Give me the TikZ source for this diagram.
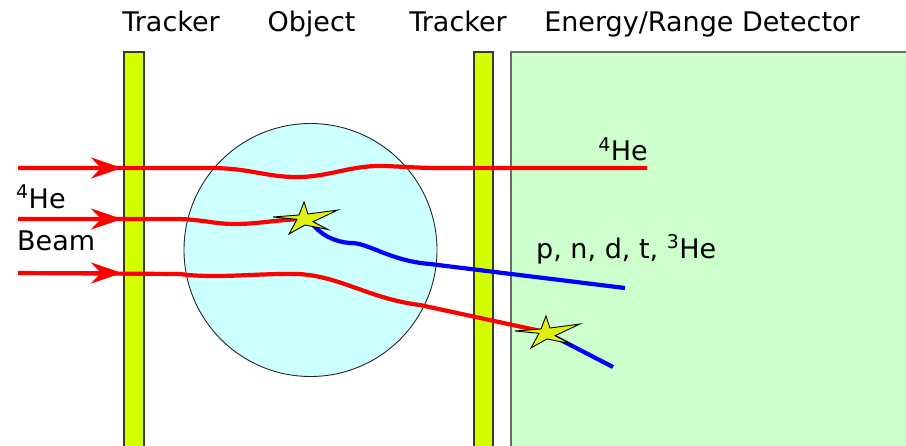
\documentclass[tikz,border=0pt]{standalone}
\usepackage{fontspec}
\setmainfont{DejaVu Sans}
\usetikzlibrary{arrows.meta}
\definecolor{trk}{RGB}{212,255,0}
\definecolor{obj}{RGB}{204,255,255}
\definecolor{det}{RGB}{204,255,204}
\definecolor{trkline}{RGB}{55,60,30}
\definecolor{detline}{RGB}{100,110,100}
\definecolor{starfill}{RGB}{225,240,20}
\begin{document}
\begin{tikzpicture}[x=1pt,y=-1pt,
  lbl/.style={font=\fontsize{27}{31}\selectfont, inner sep=0pt},
  beam/.style={red, line width=4.2pt},
  frag/.style={blue, line width=4.2pt},
  beamarrow/.style={red, line width=4.2pt, -{Stealth[length=31pt,width=21pt,inset=10pt]}},
  tracker/.style={fill=trk, draw=trkline, line width=1.2pt},
  starshape/.pic={\filldraw[fill=starfill, draw=black, line width=0.9pt, line join=miter]
     (-4,-17) -- (0,-5) -- (30,-9) -- (5,2.7) -- (20,10.5) -- (-3,6) -- (-19,15)
     -- (-11,0.3) -- (-35,-2) -- (-9,-4) -- cycle;}
]
\useasboundingbox (0,0) rectangle (906,445);
\clip (0,0) rectangle (906,445);
% detector and trackers
\draw[fill=det, draw=detline, line width=1.5pt] (511,52) rectangle (915,460);
\draw[tracker] (124,52) rectangle (144,460);
\draw[tracker] (474,52) rectangle (493,460);
% object
\draw[fill=obj, draw=black!85, line width=0.9pt] (310.5,250) circle[radius=126.5pt];
% coordinates
\coordinate (s1) at (308,219);
\coordinate (s2) at (550,333);
\coordinate (a1) at (18,168);
\coordinate (a2) at (18,219);
\coordinate (a3) at (18,273);
\coordinate (h1) at (122,168);
\coordinate (h2) at (122,219);
\coordinate (h3) at (122,273);
\coordinate (e1) at (647,168);
\coordinate (f1) at (625,288);
\coordinate (f2) at (613,367);
% beam lines
\draw[beam] (a1) -- (210,168) .. controls (250,168) and (265,177) .. (297,177)
   .. controls (330,177) and (350,165) .. (385,166) .. controls (410,167) and (420,168) .. (440,168) -- (e1);
\draw[beam] (a2) -- (180,219) .. controls (205,220) and (215,224) .. (235,224)
   .. controls (260,224) and (280,219) .. (s1);
\draw[beam] (a3) -- (180,274) .. controls (215,279) and (260,273) .. (298,274)
   .. controls (340,276) and (370,299) .. (420,305) -- (s2);
\draw[beamarrow] (a1) -- (h1);
\draw[beamarrow] (a2) -- (h2);
\draw[beamarrow] (a3) -- (h3);
% fragments
\draw[frag] (310,221) .. controls (320,235) and (335,242) .. (350,243)
   .. controls (367,242) and (390,261) .. (430,264) -- (f1);
\draw[frag] (553,336) -- (f2);
% stars
\pic at (s1) {starshape};
\pic at (s2) {starshape};
% labels
\node[lbl, anchor=base] (t1) at (171,31.5) {Tracker};
\node[lbl, anchor=base] (ob) at (311.5,31.5) {Object};
\node[lbl, anchor=base] (t2) at (458,31.5) {Tracker};
\node[lbl, anchor=base] (ed) at (702,31.5) {Energy/Range Detector};
\node[lbl, anchor=base west] (he) at (16,208) {\textsuperscript{4}He};
\node[lbl, anchor=base west] (bm) at (17,250) {Beam};
\node[lbl, anchor=base east] (he2) at (648,160.5) {\textsuperscript{4}He};
\node[lbl, anchor=base west] (fr) at (536,258) {p, n, d, t, \textsuperscript{3}He};
\end{tikzpicture}
\end{document}
